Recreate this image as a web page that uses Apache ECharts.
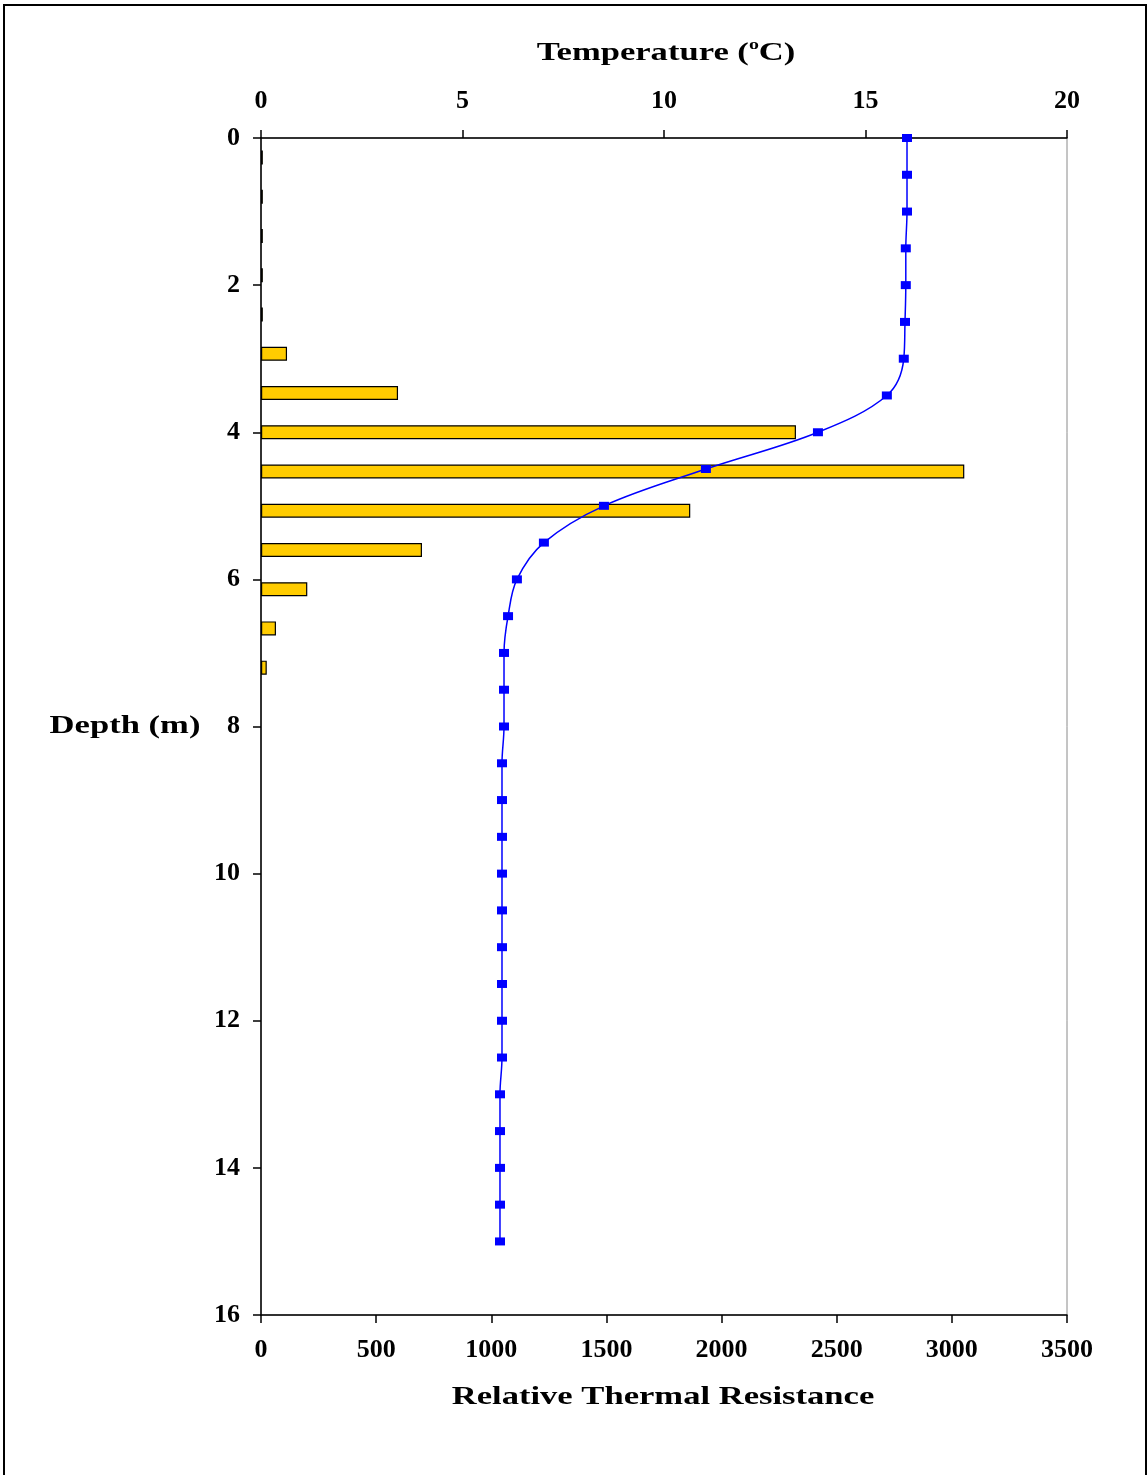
<!DOCTYPE html>
<html>
<head>
<meta charset="utf-8">
<title>Temperature and Relative Thermal Resistance vs Depth</title>
<script src="https://cdn.jsdelivr.net/npm/echarts@6/dist/echarts.min.js"></script>
<style>
  html, body { margin: 0; padding: 0; background: #fff; }
  #chart { width: 1148px; height: 1475px; }
</style>
</head>
<body>
<div id="chart"></div>
<script>
// Temperature profile: depth (m) and temperature (°C)
const tempDepths = [0, 0.5, 1, 1.5, 2, 2.5, 3, 3.5, 4, 4.5, 5, 5.5, 6, 6.5, 7, 7.5, 8,
  8.5, 9, 9.5, 10, 10.5, 11, 11.5, 12, 12.5, 13, 13.5, 14, 14.5, 15];
const temperatures = [16.03, 16.03, 16.03, 16.0, 16.0, 15.98, 15.95, 15.53, 13.82, 11.04, 8.51, 7.02, 6.35, 6.13, 6.03, 6.03, 6.03,
  5.98, 5.98, 5.98, 5.98, 5.98, 5.98, 5.98, 5.98, 5.98, 5.93, 5.93, 5.93, 5.93, 5.93];

// Relative thermal resistance per layer (30 equal layers over 0–16 m)
const layers = Array.from({ length: 30 }, (_, i) => 'L' + (i + 1));
const resistance = [8, 8, 8, 8, 8, 113, 595, 2323, 3054, 1864, 699, 201, 65, 25];

// Axis ticks
const depthTicks = { min: 0, max: 16, interval: 2 };
const tempTicks = { min: 0, max: 20, interval: 5 };
const resTicks = { min: 0, max: 3500, interval: 500 };

const FONT = "'Liberation Serif', 'Times New Roman', serif";
const chart = echarts.init(document.getElementById('chart'));

const labelStyle = {
  color: '#000', fontFamily: FONT, fontWeight: 'bold', fontSize: 26,
  formatter: (v) => String(v)
};
const axisLine = { show: true, lineStyle: { color: '#000', width: 1.5 } };
const axisTick = { show: true, length: 8, lineStyle: { color: '#000', width: 1.5 } };

chart.setOption({
  backgroundColor: '#fff',
  animation: false,
  grid: {
    left: 261, top: 138, right: 81, bottom: 160,
    show: true, borderColor: '#8a8a8a', borderWidth: 1, backgroundColor: 'transparent'
  },
  xAxis: [
    {
      type: 'value', position: 'top', gridIndex: 0,
      min: tempTicks.min, max: tempTicks.max, interval: tempTicks.interval,
      axisLine, axisTick, splitLine: { show: false },
      axisLabel: { ...labelStyle, margin: 24 }
    },
    {
      type: 'value', position: 'bottom', gridIndex: 0,
      min: resTicks.min, max: resTicks.max, interval: resTicks.interval,
      axisLine, axisTick, splitLine: { show: false },
      axisLabel: { ...labelStyle, margin: 22 }
    }
  ],
  yAxis: [
    {
      type: 'value', inverse: true, position: 'left',
      min: depthTicks.min, max: depthTicks.max, interval: depthTicks.interval,
      axisLine, axisTick, splitLine: { show: false },
      axisLabel: { ...labelStyle, margin: 21 }
    },
    {
      type: 'category', inverse: true, data: layers,
      show: false, boundaryGap: true
    }
  ],
  series: [
    {
      name: 'Relative Thermal Resistance',
      type: 'bar',
      xAxisIndex: 1, yAxisIndex: 1,
      data: resistance,
      barWidth: 14,
      itemStyle: { color: '#FFCC00', borderColor: '#000', borderWidth: 1.2 },
      z: 2
    },
    {
      name: 'Temperature',
      type: 'line',
      xAxisIndex: 0, yAxisIndex: 0,
      data: tempDepths.map((d, i) => [temperatures[i], d]),
      smooth: 0.35,
      symbol: 'rect', symbolSize: [10, 8],
      itemStyle: { color: '#0000FF' },
      lineStyle: { color: '#0000FF', width: 1.5 },
      z: 3
    }
  ],
  graphic: [
    {
      type: 'rect', silent: true,
      shape: { x: 4, y: 5, width: 1142, height: 1500 },
      style: { fill: 'none', stroke: '#000', lineWidth: 2 }
    },
    {
      type: 'text', x: 666, y: 53, scaleX: 1.33,
      style: {
        text: '{a|Temperature (}{s|o}{a|C)}',
        textAlign: 'center', textVerticalAlign: 'middle',
        rich: {
          a: { fontFamily: FONT, fontWeight: 'bold', fontSize: 26, fill: '#000', lineHeight: 30 },
          s: { fontFamily: FONT, fontWeight: 'bold', fontSize: 15, fill: '#000', verticalAlign: 'top', lineHeight: 30, padding: [0, 0, 12, 0] }
        }
      }
    },
    {
      type: 'text', x: 663, y: 1397, scaleX: 1.33,
      style: {
        text: 'Relative Thermal Resistance',
        textAlign: 'center', textVerticalAlign: 'middle',
        fontFamily: FONT, fontWeight: 'bold', fontSize: 26, fill: '#000'
      }
    },
    {
      type: 'text', x: 125, y: 726, scaleX: 1.33,
      style: {
        text: 'Depth (m)',
        textAlign: 'center', textVerticalAlign: 'middle',
        fontFamily: FONT, fontWeight: 'bold', fontSize: 26, fill: '#000'
      }
    }
  ]
});
</script>
</body>
</html>
